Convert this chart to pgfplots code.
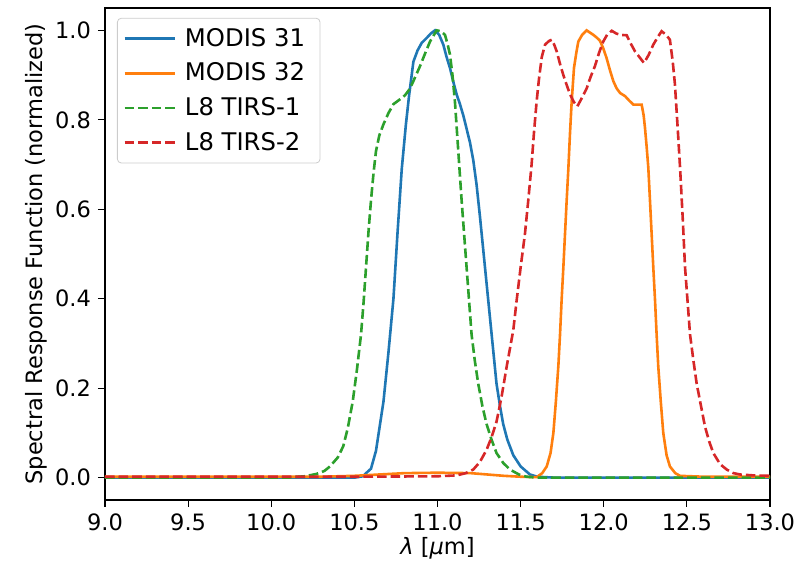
\documentclass[border=0pt]{standalone}
\usepackage{fontspec}
\setmainfont{DejaVu Sans}
\usepackage{pgfplots}
\pgfplotsset{compat=1.18}
\definecolor{tabblue}{HTML}{1F77B4}
\definecolor{taborange}{HTML}{FF7F0E}
\definecolor{tabgreen}{HTML}{2CA02C}
\definecolor{tabred}{HTML}{D62728}
\begin{document}
\begin{tikzpicture}[font=\fontsize{11.3}{13.5}\selectfont]
\begin{axis}[
  name=ax,
  scale only axis,
  width=332.5bp, height=246bp,
  xmin=9, xmax=13, ymin=-0.05, ymax=1.05,
  xtick={9,9.5,...,13}, ytick={0,0.2,0.4,0.6,0.8,1.0},
  /pgf/number format/assume math mode=true,
  xticklabel style={/pgf/number format/fixed,/pgf/number format/fixed zerofill,/pgf/number format/precision=1},
  yticklabel style={/pgf/number format/fixed,/pgf/number format/fixed zerofill,/pgf/number format/precision=1},
  tick align=outside, major tick length=3.5bp,
  tick style={black, line width=0.6bp},
  xtick pos=bottom, ytick pos=left,
  axis line style={line width=0.6bp},
  xlabel={{\itshape λ} [{\itshape μ}m]},
  ylabel={Spectral Response Function (normalized)},
  xlabel style={at={(axis description cs:0.5,-0.0976)}, anchor=center},
  ylabel style={at={(axis description cs:-0.104,0.5)}, anchor=center},
  legend style={at={(axis description cs:0.018,0.98)}, anchor=north west,
    draw=black!20, rounded corners=2pt, fill=white, fill opacity=0.8, text opacity=1,
    font=\fontsize{12.2}{14.6}\selectfont,
    row sep=2.8bp, inner xsep=3bp, inner ysep=3bp,
    nodes={inner xsep=4.5bp}},
  legend cell align=left,
  legend image code/.code={\draw[#1] (-1bp,0bp) -- (24bp,0bp);},
  every axis plot/.append style={line width=1.3bp},
]
\addplot[tabblue] coordinates {
(9,0) (10.3,0) (10.5,0) (10.55,0.003) (10.6,0.02) (10.63,0.06) (10.675,0.17) (10.705,0.28) (10.735,0.40) (10.76,0.55) (10.785,0.69) (10.81,0.79) (10.83,0.857) (10.855,0.93) (10.88,0.955) (10.905,0.972) (10.935,0.983) (10.96,0.993) (10.985,1.0) (11.01,0.99) (11.035,0.968) (11.055,0.94) (11.075,0.916) (11.095,0.885) (11.115,0.857) (11.135,0.835) (11.155,0.81) (11.175,0.78) (11.195,0.75) (11.215,0.71) (11.235,0.655) (11.255,0.585) (11.275,0.51) (11.295,0.435) (11.315,0.36) (11.335,0.285) (11.355,0.21) (11.376,0.16) (11.395,0.12) (11.42,0.085) (11.456,0.05) (11.5,0.025) (11.556,0.007) (11.6,0.002) (11.7,0) (13,0)
};
\addlegendentry{MODIS 31}
\addplot[taborange] coordinates {
(9,0.002) (10.3,0.002) (10.5,0.004) (10.7,0.008) (10.8,0.01) (11.0,0.011) (11.2,0.01) (11.3,0.007) (11.4,0.004) (11.5,0.002) (11.596,0.001) (11.63,0.01) (11.657,0.025) (11.68,0.055) (11.697,0.10) (11.712,0.17) (11.727,0.25) (11.737,0.32) (11.747,0.40) (11.757,0.47) (11.767,0.545) (11.777,0.62) (11.787,0.69) (11.797,0.77) (11.807,0.84) (11.821,0.916) (11.835,0.95) (11.847,0.975) (11.87,0.99) (11.897,1.0) (11.917,0.995) (11.937,0.99) (11.957,0.984) (11.977,0.977) (11.997,0.96) (12.017,0.938) (12.038,0.91) (12.058,0.886) (12.078,0.87) (12.098,0.86) (12.128,0.853) (12.153,0.843) (12.178,0.834) (12.203,0.834) (12.228,0.834) (12.24,0.81) (12.248,0.782) (12.258,0.74) (12.268,0.693) (12.278,0.62) (12.288,0.545) (12.298,0.47) (12.308,0.40) (12.318,0.32) (12.328,0.248) (12.343,0.17) (12.358,0.10) (12.378,0.05) (12.398,0.025) (12.43,0.01) (12.459,0.004) (12.6,0.002) (13,0.002)
};
\addlegendentry{MODIS 32}
\addplot[tabgreen, dash pattern=on 4.8bp off 2bp] coordinates {
(9,0) (10.1,0) (10.2,0.003) (10.27,0.008) (10.32,0.015) (10.353,0.025) (10.4,0.045) (10.433,0.07) (10.46,0.11) (10.49,0.17) (10.515,0.24) (10.54,0.32) (10.555,0.39) (10.57,0.47) (10.585,0.55) (10.6,0.62) (10.615,0.68) (10.63,0.73) (10.65,0.765) (10.675,0.79) (10.705,0.815) (10.735,0.835) (10.775,0.846) (10.805,0.855) (10.835,0.87) (10.865,0.895) (10.895,0.92) (10.925,0.948) (10.955,0.975) (10.995,1.0) (11.02,0.998) (11.045,0.99) (11.06,0.97) (11.075,0.946) (11.09,0.9) (11.105,0.84) (11.125,0.73) (11.145,0.62) (11.16,0.545) (11.175,0.47) (11.19,0.395) (11.205,0.32) (11.225,0.26) (11.245,0.21) (11.27,0.16) (11.295,0.12) (11.325,0.085) (11.355,0.055) (11.395,0.033) (11.436,0.018) (11.49,0.007) (11.536,0.002) (11.6,0) (13,0)
};
\addlegendentry{L8 TIRS-1}
\addplot[tabred, dash pattern=on 4.8bp off 2bp] coordinates {
(9,0.002) (10.5,0.002) (11.0,0.003) (11.115,0.005) (11.17,0.01) (11.215,0.018) (11.255,0.035) (11.295,0.062) (11.325,0.09) (11.355,0.125) (11.385,0.18) (11.416,0.248) (11.456,0.33) (11.476,0.396) (11.5,0.47) (11.526,0.545) (11.546,0.62) (11.566,0.70) (11.58,0.77) (11.596,0.84) (11.61,0.89) (11.627,0.94) (11.647,0.968) (11.67,0.976) (11.687,0.979) (11.702,0.968) (11.717,0.953) (11.737,0.925) (11.757,0.90) (11.777,0.878) (11.797,0.857) (11.82,0.84) (11.841,0.83) (11.87,0.85) (11.897,0.87) (11.92,0.895) (11.947,0.92) (11.972,0.95) (11.997,0.975) (12.02,0.99) (12.048,0.999) (12.075,0.993) (12.098,0.99) (12.138,0.989) (12.163,0.97) (12.188,0.953) (12.215,0.94) (12.242,0.927) (12.27,0.945) (12.298,0.968) (12.325,0.985) (12.348,0.998) (12.375,0.99) (12.398,0.979) (12.415,0.93) (12.428,0.88) (12.445,0.78) (12.459,0.693) (12.475,0.58) (12.489,0.47) (12.505,0.39) (12.519,0.32) (12.54,0.26) (12.559,0.21) (12.585,0.16) (12.609,0.114) (12.635,0.08) (12.659,0.055) (12.7,0.03) (12.74,0.018) (12.78,0.01) (12.82,0.007) (12.9,0.005) (13,0.004)
};
\addlegendentry{L8 TIRS-2}
\end{axis}
\path ([xshift=-52.5bp,yshift=-31.5bp]ax.south west) rectangle ([xshift=20bp,yshift=4bp]ax.north east);
\end{tikzpicture}
\end{document}
